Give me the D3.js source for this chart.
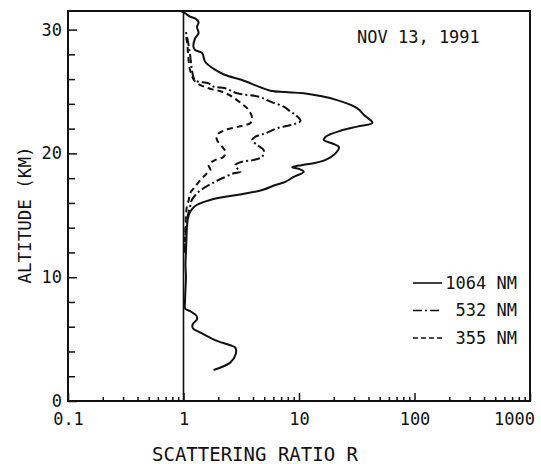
<!DOCTYPE html>
<html>
<head>
<meta charset="utf-8">
<script src="https://cdn.jsdelivr.net/npm/d3@7"></script>
<style>
  body { margin: 0; background: #fff; }
  svg text { font-family: 'DejaVu Sans Mono', monospace; fill: #111; }
</style>
</head>
<body>
<div id="chart"></div>
<script>
// lidar profiles, altitude (km) vs scattering ratio R
const alt1064 = [2.5, 3.1, 3.77, 4.31, 4.5, 4.86, 5.53, 5.85, 6.19, 6.6, 6.91, 7.26, 7.45, 8, 9, 10, 11, 12, 13, 14, 14.7, 15.2, 15.56, 15.83, 16.24, 16.5, 16.7, 17.04, 17.45, 17.7, 18.1, 18.52, 18.75, 18.88, 19.05, 19.2, 19.47, 20, 20.5, 20.8, 21.08, 21.35, 21.83, 22.16, 22.48, 23.1, 23.64, 24.3, 24.85, 24.95, 25.06, 25.39, 25.93, 26.33, 26.74, 27.4, 28.1, 28.35, 28.6, 29.3, 29.7, 30.2, 30.6, 30.9, 31.04, 31.3, 31.5];
const ratio1064 = [1.82, 2.54, 2.83, 2.81, 2.54, 1.95, 1.4, 1.21, 1.2, 1.31, 1.29, 1.14, 1.035, 1.03, 1.04, 1.05, 1.04, 1.05, 1.06, 1.07, 1.09, 1.13, 1.2, 1.3, 1.7, 2.3, 3.2, 4.8, 6.25, 7.6, 9.0, 11.0, 10.0, 8.73, 10.5, 13.4, 17.0, 20.7, 22.2, 19.5, 16.4, 17.0, 22.9, 32.0, 43.2, 36.5, 32.0, 21.4, 11.0, 7.6, 5.66, 4.48, 3.21, 2.3, 1.89, 1.54, 1.45, 1.26, 1.22, 1.26, 1.35, 1.31, 1.35, 1.26, 1.14, 1.04, 0.95];

const alt532 = [12, 13, 14, 15, 15.7, 16.24, 16.78, 17.18, 17.58, 17.99, 18.39, 18.52, 18.8, 19.06, 19.33, 19.47, 19.73, 20.27, 20.68, 21.08, 21.35, 21.62, 22.03, 22.29, 22.62, 23.1, 23.37, 23.77, 24.18, 24.58, 24.85, 25.26, 25.39, 25.66, 25.9, 26.6, 27.1, 27.95, 28.9, 29.8];
const ratio532 = [1.02, 1.03, 1.05, 1.09, 1.14, 1.18, 1.31, 1.49, 1.77, 2.16, 2.72, 3.11, 2.91, 2.81, 3.21, 4.05, 4.8, 4.95, 4.34, 3.93, 4.2, 5.12, 6.47, 8.44, 10.3, 9.33, 8.44, 7.38, 5.66, 4.48, 2.91, 2.3, 1.82, 1.65, 1.26, 1.19, 1.17, 1.14, 1.1, 1.05];

const alt355 = [12, 13, 14, 15, 15.7, 16.24, 16.78, 17.31, 17.85, 18.39, 18.66, 19.06, 19.47, 19.73, 20.14, 20.54, 21.08, 21.49, 21.89, 22.16, 22.46, 22.86, 23.5, 23.99, 24.58, 24.98, 25.26, 25.8, 26.74, 27.8, 28.8, 29.5];
const ratio355 = [1.02, 1.03, 1.04, 1.05, 1.07, 1.11, 1.14, 1.26, 1.4, 1.6, 1.71, 1.65, 1.89, 2.23, 2.3, 2.16, 1.95, 1.95, 2.3, 3.0, 3.8, 3.93, 3.67, 3.21, 2.63, 2.16, 1.65, 1.26, 1.14, 1.1, 1.08, 1.05];

const xMajorTicks = [0.1, 1, 10, 100, 1000];
const xTickLabels = ['0.1', '1', '10', '100', '1000'];
const yMajorTicks = [0, 10, 20, 30];
const yMinorTicks = [2, 4, 6, 8, 12, 14, 16, 18, 22, 24, 26, 28];
const seriesNames = ['1064 NM', '532 NM', '355 NM'];

class ProfileChart {
    constructor(_config) {
        this.config = {
            parentElement: _config.parentElement,
            containerWidth: _config.containerWidth || 541,
            containerHeight: _config.containerHeight || 464,
            margin: _config.margin || { top: 11, right: 11, bottom: 63, left: 68 }
        }
        this.initVis();
    }

    initVis() {
        let vis = this;
        vis.width = vis.config.containerWidth - vis.config.margin.left - vis.config.margin.right;
        vis.height = vis.config.containerHeight - vis.config.margin.top - vis.config.margin.bottom;

        vis.svg = d3.select(vis.config.parentElement).append('svg')
            .attr('width', vis.config.containerWidth)
            .attr('height', vis.config.containerHeight);

        vis.chart = vis.svg.append('g')
            .attr('transform', `translate(${vis.config.margin.left},${vis.config.margin.top})`);

        vis.xScale = d3.scaleLog().domain([0.1, 1000]).range([0, vis.width]);
        vis.yScale = d3.scaleLinear().domain([0, 31.5]).range([vis.height, 0]);

        // minor x ticks (2..9 of each decade)
        const minors = [];
        [0.1, 1, 10, 100].forEach(d => { for (let k = 2; k <= 9; k++) minors.push(d * k); });

        vis.chart.append('g')
            .attr('transform', `translate(0,${vis.height})`)
            .call(d3.axisBottom(vis.xScale).tickValues(minors).tickSize(-4).tickFormat(''))
            .call(g => g.select('.domain').remove());

        vis.chart.append('g')
            .attr('class', 'x-major')
            .attr('transform', `translate(0,${vis.height})`)
            .call(d3.axisBottom(vis.xScale).tickValues(xMajorTicks).tickSize(-8).tickPadding(12)
                .tickFormat((d, i) => xTickLabels[i]))
            .call(g => g.select('.domain').remove())
            .call(g => g.selectAll('text').style('font-size', '17px'))
            .call(g => g.selectAll('.tick').filter(d => d === 1000).select('text').attr('dx', -16));

        vis.chart.append('g')
            .call(d3.axisLeft(vis.yScale).tickValues(yMinorTicks).tickSize(-7).tickFormat(''))
            .call(g => g.select('.domain').remove());

        vis.chart.append('g')
            .call(d3.axisLeft(vis.yScale).tickValues(yMajorTicks).tickSize(-9).tickPadding(6))
            .call(g => g.select('.domain').remove())
            .call(g => g.selectAll('text').style('font-size', '17px'));

        vis.chart.selectAll('.tick line').attr('stroke', '#111').attr('stroke-width', 1.5);

        // frame
        vis.chart.append('rect')
            .attr('width', vis.width)
            .attr('height', vis.height)
            .attr('fill', 'none')
            .attr('stroke', '#111')
            .attr('stroke-width', 2);

        // R = 1 reference line
        vis.chart.append('line')
            .attr('x1', vis.xScale(1)).attr('x2', vis.xScale(1))
            .attr('y1', 0).attr('y2', vis.height)
            .attr('stroke', '#111')
            .attr('stroke-width', 1.6);

        // titles
        vis.svg.append('text')
            .attr('x', 255)
            .attr('y', 461)
            .attr('text-anchor', 'middle')
            .style('font-size', '19px')
            .text('SCATTERING RATIO R');

        vis.svg.append('text')
            .attr('transform', 'translate(31,215) rotate(-90)')
            .attr('text-anchor', 'middle')
            .style('font-size', '17.5px')
            .text('ALTITUDE (KM)');

        vis.svg.append('text')
            .attr('x', 357)
            .attr('y', 43)
            .style('font-size', '17px')
            .text('NOV 13, 1991');
    }

    renderVis() {
        let vis = this;
        const line = d3.line()
            .x(d => vis.xScale(d[0]))
            .y(d => vis.yScale(d[1]))
            .curve(d3.curveCatmullRom.alpha(0.5));

        const series = [
            { name: seriesNames[0], values: d3.zip(ratio1064, alt1064), dash: null },
            { name: seriesNames[1], values: d3.zip(ratio532, alt532), dash: '9,3,2,3' },
            { name: seriesNames[2], values: d3.zip(ratio355, alt355), dash: '6,4' }
        ];

        vis.chart.selectAll('.profile')
            .data(series)
            .join('path')
            .attr('class', 'profile')
            .attr('d', d => line(d.values))
            .attr('fill', 'none')
            .attr('stroke', '#111')
            .attr('stroke-width', 2)
            .attr('stroke-linejoin', 'round')
            .attr('stroke-dasharray', d => d.dash);

        // legend
        const legend = vis.svg.selectAll('.legend-item')
            .data(series)
            .join('g')
            .attr('class', 'legend-item')
            .attr('transform', (d, i) => `translate(0,${283 + i * 27.5})`);

        legend.append('line')
            .attr('x1', 413).attr('x2', 442)
            .attr('stroke', '#111')
            .attr('stroke-width', 1.6)
            .attr('stroke-dasharray', (d, i) => i === 1 ? '9,3,2,3' : i === 2 ? '5,3' : null);

        legend.append('text')
            .attr('x', 517)
            .attr('dy', '0.35em')
            .attr('text-anchor', 'end')
            .style('font-size', '17px')
            .text(d => d.name);
    }
}

const chart = new ProfileChart({ parentElement: '#chart' });
chart.renderVis();
</script>
</body>
</html>
